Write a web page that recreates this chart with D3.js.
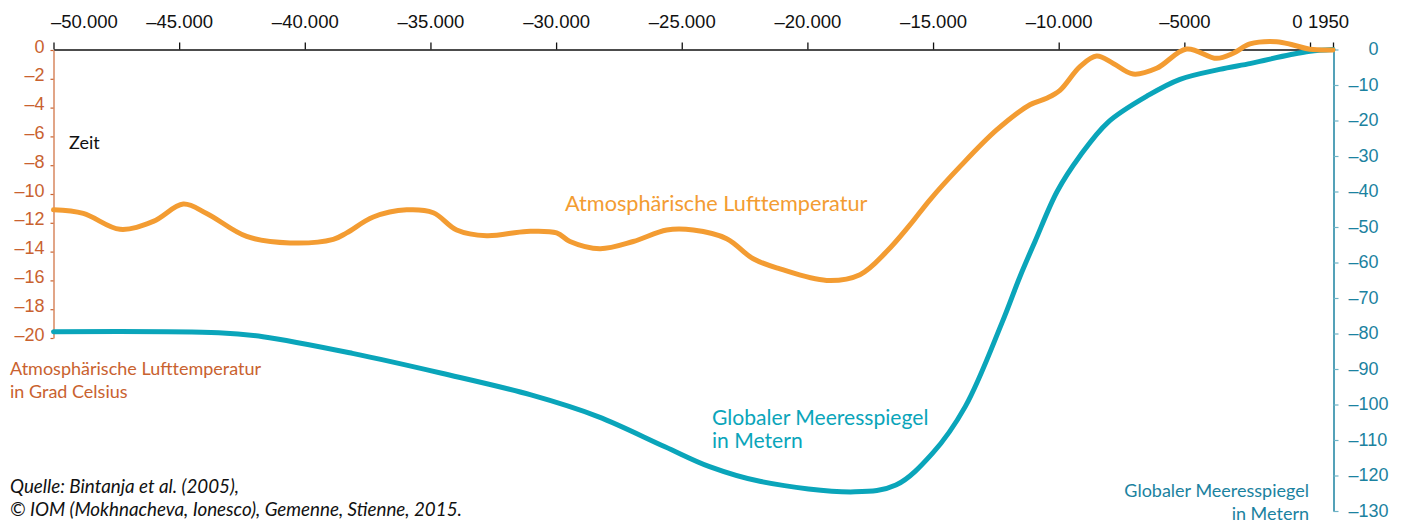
<!DOCTYPE html>
<html>
<head>
<meta charset="utf-8">
<script src="https://cdn.jsdelivr.net/npm/d3@7"></script>
<style>
  html, body { margin: 0; padding: 0; background: #fff; }
  svg { display: block; }
</style>
</head>
<body>
<svg id="chart" width="1407" height="524"></svg>
<script>
// ---- data ----
const xTicks = [-50000, -45000, -40000, -35000, -30000, -25000, -20000, -15000, -10000, -5000, 0, 1950];
const xTickLabels = ["–50.000", "–45.000", "–40.000", "–35.000", "–30.000", "–25.000", "–20.000", "–15.000", "–10.000", "–5000", "0", "1950"];
const tempTicks = [0, -2, -4, -6, -8, -10, -12, -14, -16, -18, -20];
const seaTicks = [0, -10, -20, -30, -40, -50, -60, -70, -80, -90, -100, -110, -120, -130];

const tempYears = [-50000, -48814, -47354, -46029, -44835, -43904, -42313, -40590, -38867, -38334, -37275, -35946, -34888, -33957, -32763, -31171, -29978, -29448, -28255, -26930, -25601, -24542, -23213, -22155, -21092, -19234, -17909, -16847, -15920, -15124, -13930, -12470, -11145, -10480, -9951, -9155, -8491, -7830, -7035, -6104, -4910, -3716, -3056, -2391, -1329, -668, 0, 1950];
const tempValues = [-11.1, -11.35, -12.45, -11.9, -10.7, -11.35, -12.95, -13.4, -13.15, -12.7, -11.6, -11.1, -11.3, -12.5, -12.9, -12.6, -12.7, -13.3, -13.8, -13.3, -12.5, -12.5, -13.1, -14.5, -15.2, -16.0, -15.6, -14.0, -12.15, -10.4, -8.1, -5.55, -3.8, -3.35, -2.8, -1.15, -0.42, -0.93, -1.67, -1.27, 0.07, -0.58, -0.23, 0.42, 0.58, 0.35, 0.05, 0.0];

const seaYears = [-50000, -43431, -41664, -38103, -34550, -31000, -28334, -25668, -23894, -21849, -18108, -16477, -15017, -13719, -12259, -11543, -10938, -10063, -9155, -8040, -6408, -5175, -3600, -2350, -800, 0, 1950];
const seaValues = [-79.5, -79.8, -80.9, -85.6, -91.2, -97.3, -103.4, -111.9, -117.5, -121.7, -124.6, -122.7, -113.7, -100.6, -77, -64, -54, -40, -30, -20.5, -12.8, -8.4, -5.6, -3.9, -1.5, -0.5, 0];

// ---- colours ----
const ORANGE = "#f39c32";
const TEMP_AXIS = "#c9622f";
const TEAL = "#0aa5ba";
const TEAL_DARK = "#1b82a0";

const svg = d3.select("#chart");

const x = d3.scaleLinear().domain([-50000, 0, 1950]).range([53.5, 1310, 1333]);
const yT = d3.scaleLinear().domain([0, -20]).range([50, 338]);
const yS = d3.scaleLinear().domain([0, -130]).range([49.5, 511]);

// top axis
const topAxis = d3.axisTop(x).tickValues(xTicks)
  .tickFormat((d, i) => xTickLabels[i]).tickSize(7).tickSizeOuter(0).tickPadding(15);
const gTop = svg.append("g").attr("transform", "translate(0,49.5)").call(topAxis);
gTop.select(".domain").attr("stroke", "#111").attr("stroke-width", 1.5);
gTop.selectAll(".tick line").attr("stroke", "#111").attr("stroke-width", 1.3);
gTop.selectAll(".tick text")
  .attr("font-family", "Liberation Sans, Arial, sans-serif")
  .attr("font-size", 18.5).attr("fill", "#111")
  .attr("text-anchor", d => d === -50000 ? "start" : "middle")
  .attr("dx", d => d === -50000 ? -3 : (d === 0 ? -13 : (d === 1950 ? -5 : 0)));

// left axis (temperature)
const leftAxis = d3.axisLeft(yT).tickValues(tempTicks).tickFormat(d => d === 0 ? "0" : "–" + Math.abs(d))
  .tickSize(3).tickSizeOuter(0).tickPadding(6);
const gLeft = svg.append("g").attr("transform", "translate(53.5,0)").call(leftAxis);
gLeft.select(".domain").attr("stroke", "#d7875f").attr("stroke-width", 1.5);
gLeft.selectAll(".tick line").attr("stroke", TEMP_AXIS).attr("stroke-width", 1.2);
gLeft.selectAll(".tick text")
  .attr("font-family", "Liberation Sans, Arial, sans-serif")
  .attr("font-size", 18).attr("fill", TEMP_AXIS).attr("dy", "0.12em");

// right axis (sea level)
const rightAxis = d3.axisRight(yS).tickValues(seaTicks).tickFormat(d => d === 0 ? "0" : "–" + Math.abs(d))
  .tickSize(5).tickSizeOuter(0).tickPadding(10);
const gRight = svg.append("g").attr("transform", "translate(1333.5,0)").call(rightAxis);
gRight.select(".domain").attr("stroke", TEAL_DARK).attr("stroke-width", 1.5);
gRight.selectAll(".tick line").attr("stroke", "#6fb3c6").attr("stroke-width", 1.2);
gRight.selectAll(".tick text")
  .attr("font-family", "Liberation Sans, Arial, sans-serif")
  .attr("font-size", 18).attr("fill", TEAL_DARK).attr("dy", "0.3em")
  .attr("x", d => d === 0 ? 35 : 15);

// lines
const tempData = tempYears.map((yr, i) => [yr, tempValues[i]]);
const seaData = seaYears.map((yr, i) => [yr, seaValues[i]]);

svg.append("path").datum(seaData)
  .attr("fill", "none").attr("stroke", TEAL).attr("stroke-width", 5).attr("stroke-linecap", "round")
  .attr("d", d3.line().x(d => x(d[0])).y(d => yS(d[1])).curve(d3.curveCatmullRom.alpha(0.5)));

svg.append("path").datum(tempData)
  .attr("fill", "none").attr("stroke", ORANGE).attr("stroke-width", 5).attr("stroke-linecap", "round")
  .attr("d", d3.line().x(d => x(d[0])).y(d => yT(d[1])).curve(d3.curveCatmullRom.alpha(0.5)));

// annotations
const annFont = "Lato, 'Open Sans', sans-serif";
svg.append("text").attr("x", 69).attr("y", 149).attr("font-family", annFont).attr("font-size", 18)
  .attr("fill", "#111").text("Zeit");

svg.append("text").attr("x", 565).attr("y", 211).attr("font-family", annFont).attr("font-size", 21.7)
  .attr("fill", ORANGE).text("Atmosphärische Lufttemperatur");

const lt = svg.append("text").attr("font-family", annFont).attr("font-size", 18).attr("fill", TEMP_AXIS);
lt.append("tspan").attr("x", 10).attr("y", 375).text("Atmosphärische Lufttemperatur");
lt.append("tspan").attr("x", 10).attr("y", 398).text("in Grad Celsius");

const mt = svg.append("text").attr("font-family", annFont).attr("font-size", 21.1).attr("fill", TEAL);
mt.append("tspan").attr("x", 712).attr("y", 425).text("Globaler Meeresspiegel");
mt.append("tspan").attr("x", 712).attr("y", 448).text("in Metern");

const rt = svg.append("text").attr("font-family", annFont).attr("font-size", 18).attr("fill", TEAL_DARK)
  .attr("text-anchor", "end");
rt.append("tspan").attr("x", 1309).attr("y", 497).text("Globaler Meeresspiegel");
rt.append("tspan").attr("x", 1309).attr("y", 520).text("in Metern");

const src = svg.append("text").attr("font-family", annFont).attr("font-size", 18.8).attr("font-style", "italic")
  .attr("fill", "#111");
src.append("tspan").attr("x", 10).attr("y", 493).text("Quelle: Bintanja et al. (2005),");
src.append("tspan").attr("x", 10).attr("y", 516).text("© IOM (Mokhnacheva, Ionesco), Gemenne, Stienne, 2015.");
</script>
</body>
</html>
